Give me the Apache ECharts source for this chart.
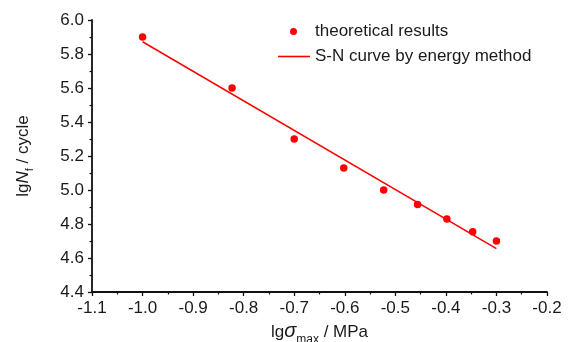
<!DOCTYPE html>
<html><head><meta charset="utf-8">
<script src="https://cdn.jsdelivr.net/npm/echarts@6/dist/echarts.min.js"></script>
<style>html,body{margin:0;padding:0;background:#fff}#c{width:571px;height:342px}</style>
</head><body><div id="c"></div>
<script>
const xTheo = [-1.0, -0.823, -0.70, -0.602, -0.523, -0.456, -0.398, -0.347, -0.30];
const yTheo = [5.90, 5.60, 5.30, 5.13, 5.00, 4.915, 4.83, 4.755, 4.70];
const xFit = [-1.0, -0.3];
const yFit = [5.872, 4.655];
const seriesNames = ['theoretical results', 'S-N curve by energy method'];

const FONT = 'Liberation Sans, Arial, sans-serif';
const txt = '#1a1a1a';
const RED = '#ff0000';
const chart = echarts.init(document.getElementById('c'));
const axisCommon = {
  axisLine: {show: true, lineStyle: {color: '#111', width: 1.8}},
  axisTick: {show: true, inside: false, length: 4, lineStyle: {color: '#111', width: 1.3}},
  minorTick: {show: true, splitNumber: 2, length: 2.5, lineStyle: {color: '#111', width: 1.2}},
  splitLine: {show: false},
  axisLabel: {color: txt, fontFamily: FONT, fontSize: 17, formatter: v => v.toFixed(1)}
};
chart.setOption({
  animation: false,
  backgroundColor: '#fff',
  grid: {left: 92, right: 24, top: 20, bottom: 50, containLabel: false, outerBoundsMode: 'none'},
  legend: [
    {data: [{name: seriesNames[0], icon: 'circle', itemStyle: {color: RED, opacity: 1}}],
     left: 290, top: 23, padding: 0, itemWidth: 7, itemHeight: 7,
     formatter: n => '{p|}{t|' + n + '}',
     textStyle: {fontFamily: FONT, fontSize: 17, color: txt,
       rich: {p: {width: 13}, t: {fontFamily: FONT, fontSize: 17, color: txt}}}},
    {data: [{name: seriesNames[1], icon: 'rect', itemStyle: {color: RED}}],
     left: 278, top: 48, padding: 0, itemWidth: 32, itemHeight: 1.6,
     textStyle: {fontFamily: FONT, fontSize: 17, color: txt}}
  ],
  xAxis: Object.assign({}, axisCommon, {
    type: 'value', min: -1.1, max: -0.2, interval: 0.1,
    axisLabel: Object.assign({}, axisCommon.axisLabel, {margin: 8}),
    name: '{a|lg}{g|σ}{s|max}{a| / MPa}', nameLocation: 'middle', nameGap: 22,
    nameTextStyle: {fontFamily: FONT, color: txt, rich: {
      a: {fontSize: 17, fontFamily: FONT, color: txt, lineHeight: 22, verticalAlign: 'middle'},
      g: {fontSize: 20, fontFamily: FONT, fontStyle: 'italic', color: txt, lineHeight: 22, verticalAlign: 'middle'},
      s: {fontSize: 12, fontFamily: FONT, color: txt, lineHeight: 22, verticalAlign: 'bottom', padding: [0, 0, -3, 0]}
    }}
  }),
  yAxis: Object.assign({}, axisCommon, {
    type: 'value', min: 4.4, max: 6.0, interval: 0.2,
    axisLabel: Object.assign({}, axisCommon.axisLabel, {margin: 8}),
    name: '{a|lg}{i|N}{s|f}{a| / cycle}', nameLocation: 'middle', nameGap: 58, nameRotate: 90,
    nameTextStyle: {fontFamily: FONT, color: txt, rich: {
      a: {fontSize: 17, fontFamily: FONT, color: txt, lineHeight: 22, verticalAlign: 'middle'},
      i: {fontSize: 17, fontFamily: FONT, fontStyle: 'italic', color: txt, lineHeight: 22, verticalAlign: 'middle'},
      s: {fontSize: 11, fontFamily: FONT, color: txt, lineHeight: 22, verticalAlign: 'bottom', padding: [0, 0, -1, 0]}
    }}
  }),
  series: [
    {name: seriesNames[0], type: 'scatter', symbol: 'circle', symbolSize: 7.5,
     itemStyle: {color: RED, opacity: 1},
     data: xTheo.map((x, i) => [x, yTheo[i]]), z: 3},
    {name: seriesNames[1], type: 'line', symbol: 'none', showSymbol: false,
     lineStyle: {color: RED, width: 1.5}, itemStyle: {color: RED},
     data: xFit.map((x, i) => [x, yFit[i]]), z: 2}
  ]
});
</script></body></html>
